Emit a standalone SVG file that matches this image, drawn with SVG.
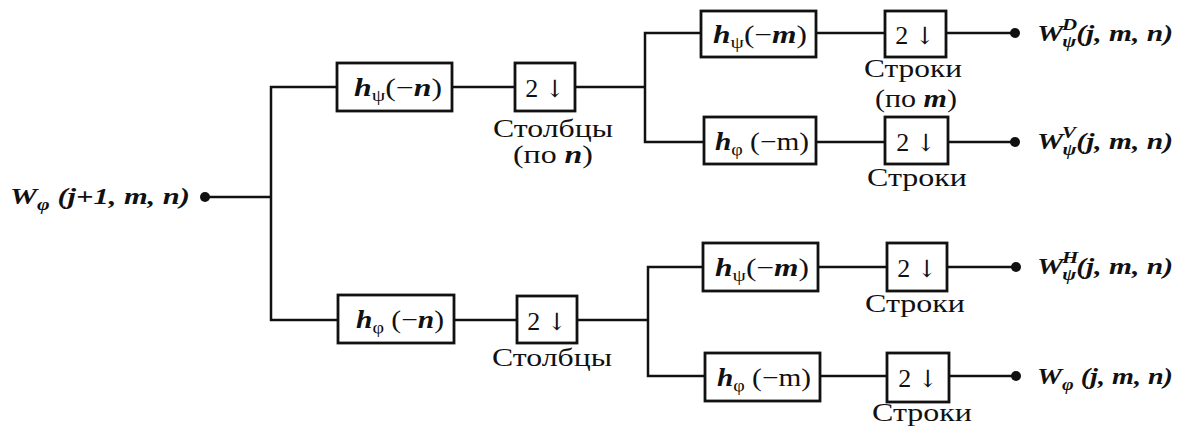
<svg xmlns="http://www.w3.org/2000/svg" width="1188" height="430" viewBox="0 0 1188 430" font-family="'Liberation Serif', 'Times New Roman', serif">
<style>
.ln{stroke:#111;stroke-width:2.5;fill:none}
.bx{stroke:#111;stroke-width:2.8;fill:#fff}
.dot{fill:#111}
.t{font-family:'Liberation Serif','Times New Roman',serif;fill:#111}
.lbl{font-size:25px;text-anchor:middle}
.cap{font-size:25px;text-anchor:middle}
.two{font-size:26px;text-anchor:middle}
.arr{font-family:'DejaVu Serif',serif;font-size:24px}
.it{font-style:italic;font-weight:bold}
.sub{font-size:17px}
.out{font-size:24px;font-style:italic;font-weight:bold}
</style>
<g id="connectors">
<line class="ln" x1="205" y1="197" x2="271" y2="197"/>
<polyline class="ln" points="337,87 271,87 271,320 338,320"/>
<line class="ln" x1="452" y1="87" x2="515" y2="87"/>
<line class="ln" x1="575" y1="87" x2="645" y2="87"/>
<polyline class="ln" points="701,33 645,33 645,142 704,142"/>
<line class="ln" x1="816" y1="33" x2="885" y2="33"/>
<line class="ln" x1="946" y1="33" x2="1015" y2="33"/>
<line class="ln" x1="816" y1="142" x2="885" y2="142"/>
<line class="ln" x1="948" y1="142" x2="1015" y2="142"/>
<line class="ln" x1="454" y1="320" x2="517" y2="320"/>
<line class="ln" x1="577" y1="320" x2="648" y2="320"/>
<polyline class="ln" points="703,267 648,267 648,376 705,376"/>
<line class="ln" x1="818" y1="267" x2="887" y2="267"/>
<line class="ln" x1="947" y1="267" x2="1016" y2="267"/>
<line class="ln" x1="820" y1="376" x2="887" y2="376"/>
<line class="ln" x1="949" y1="376" x2="1016" y2="376"/>
<circle class="dot" cx="205" cy="197" r="5"/>
<circle class="dot" cx="1015" cy="33" r="5"/>
<circle class="dot" cx="1015" cy="142" r="5"/>
<circle class="dot" cx="1016" cy="267" r="5"/>
<circle class="dot" cx="1016" cy="376" r="5"/>
</g>
<g id="input">
<text class="t out" x="10" y="204" textLength="180" lengthAdjust="spacingAndGlyphs">W<tspan class="sub" dy="6">φ</tspan><tspan dy="-6"> (j+1, m, n)</tspan></text>
</g>
<g id="h_psi_n">
<rect class="bx" x="337" y="63" width="115" height="48"/>
<text class="t lbl" x="398" y="96" textLength="88" lengthAdjust="spacingAndGlyphs"><tspan class="it">h</tspan><tspan class="sub" dy="5">ψ</tspan><tspan dy="-5">(−</tspan><tspan class="it">n</tspan>)</text>
</g>
<g id="down_cols_top">
<rect class="bx" x="515" y="63" width="60" height="48"/>
<text class="t two" x="545" y="97">2 <tspan class="arr">↓</tspan></text>
<text class="t cap" x="553" y="137" textLength="120" lengthAdjust="spacingAndGlyphs">Столбцы</text>
<text class="t cap" x="553" y="163" textLength="80" lengthAdjust="spacingAndGlyphs">(по <tspan class="it">n</tspan>)</text>
</g>
<g id="h_phi_n">
<rect class="bx" x="338" y="295" width="116" height="48"/>
<text class="t lbl" x="400" y="328" textLength="88" lengthAdjust="spacingAndGlyphs"><tspan class="it">h</tspan><tspan class="sub" dy="5">φ</tspan><tspan dy="-5"> (−</tspan><tspan class="it">n</tspan>)</text>
</g>
<g id="down_cols_bot">
<rect class="bx" x="517" y="296" width="60" height="47"/>
<text class="t two" x="547" y="330">2 <tspan class="arr">↓</tspan></text>
<text class="t cap" x="552" y="366" textLength="120" lengthAdjust="spacingAndGlyphs">Столбцы</text>
</g>
<g id="h_psi_m_top">
<rect class="bx" x="701" y="11" width="115" height="46"/>
<text class="t lbl" x="760" y="43" textLength="94" lengthAdjust="spacingAndGlyphs"><tspan class="it">h</tspan><tspan class="sub" dy="5">ψ</tspan><tspan dy="-5">(−</tspan><tspan class="it">m</tspan>)</text>
</g>
<g id="down_rows_1">
<rect class="bx" x="885" y="11" width="61" height="46"/>
<text class="t two" x="915" y="44">2 <tspan class="arr">↓</tspan></text>
<text class="t cap" x="913" y="77" textLength="98" lengthAdjust="spacingAndGlyphs">Строки</text>
<text class="t cap" x="916" y="107" textLength="82" lengthAdjust="spacingAndGlyphs">(по <tspan class="it">m</tspan>)</text>
</g>
<g id="h_phi_m_top">
<rect class="bx" x="704" y="117" width="112" height="47"/>
<text class="t lbl" x="762" y="150" textLength="94" lengthAdjust="spacingAndGlyphs"><tspan class="it">h</tspan><tspan class="sub" dy="5">φ</tspan><tspan dy="-5"> (−m)</tspan></text>
</g>
<g id="down_rows_2">
<rect class="bx" x="885" y="117" width="63" height="47"/>
<text class="t two" x="916" y="151">2 <tspan class="arr">↓</tspan></text>
<text class="t cap" x="917" y="186" textLength="100" lengthAdjust="spacingAndGlyphs">Строки</text>
</g>
<g id="h_psi_m_bot">
<rect class="bx" x="703" y="243" width="115" height="48"/>
<text class="t lbl" x="762" y="276" textLength="94" lengthAdjust="spacingAndGlyphs"><tspan class="it">h</tspan><tspan class="sub" dy="5">ψ</tspan><tspan dy="-5">(−</tspan><tspan class="it">m</tspan>)</text>
</g>
<g id="down_rows_3">
<rect class="bx" x="887" y="243" width="60" height="48"/>
<text class="t two" x="917" y="277">2 <tspan class="arr">↓</tspan></text>
<text class="t cap" x="915" y="312" textLength="100" lengthAdjust="spacingAndGlyphs">Строки</text>
</g>
<g id="h_phi_m_bot">
<rect class="bx" x="705" y="353" width="115" height="48"/>
<text class="t lbl" x="764" y="386" textLength="94" lengthAdjust="spacingAndGlyphs"><tspan class="it">h</tspan><tspan class="sub" dy="5">φ</tspan><tspan dy="-5"> (−m)</tspan></text>
</g>
<g id="down_rows_4">
<rect class="bx" x="887" y="353" width="62" height="49"/>
<text class="t two" x="918" y="387">2 <tspan class="arr">↓</tspan></text>
<text class="t cap" x="922" y="421" textLength="100" lengthAdjust="spacingAndGlyphs">Строки</text>
</g>
<g id="out_D">
<text class="t out" x="1037" y="41" textLength="136" lengthAdjust="spacingAndGlyphs">W<tspan class="sub" dx="-1" dy="-11">D</tspan><tspan class="sub" dx="-12" dy="17">ψ</tspan><tspan dy="-6">(j, m, n)</tspan></text>
</g>
<g id="out_V">
<text class="t out" x="1037" y="149" textLength="136" lengthAdjust="spacingAndGlyphs">W<tspan class="sub" dx="-1" dy="-11">V</tspan><tspan class="sub" dx="-11" dy="17">ψ</tspan><tspan dy="-6">(j, m, n)</tspan></text>
</g>
<g id="out_H">
<text class="t out" x="1037" y="274" textLength="136" lengthAdjust="spacingAndGlyphs">W<tspan class="sub" dx="-1" dy="-11">H</tspan><tspan class="sub" dx="-13" dy="17">ψ</tspan><tspan dy="-6">(j, m, n)</tspan></text>
</g>
<g id="out_A">
<text class="t out" x="1037" y="384" textLength="136" lengthAdjust="spacingAndGlyphs">W<tspan class="sub" dy="6">φ</tspan><tspan dy="-6"> (j, m, n)</tspan></text>
</g>
</svg>
